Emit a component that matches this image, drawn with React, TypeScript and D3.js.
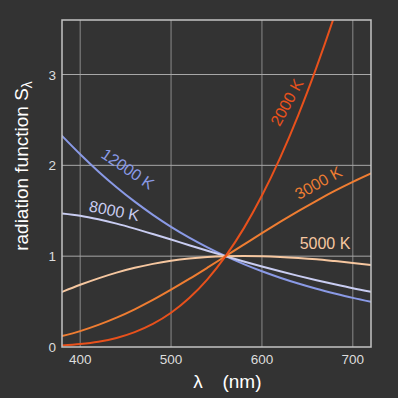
import React from 'react';
import * as d3 from 'd3';

// wavelength samples (nm)
const wavelengths = [380, 400, 420, 440, 460, 480, 500, 520, 540, 560, 580, 600, 620, 640, 660, 680, 700, 720];

// radiation function, normalised at 560 nm
const s2000 = [0.016, 0.032, 0.058, 0.100, 0.164, 0.254, 0.377, 0.539, 0.745, 1, 1.306, 1.667, 2.083, 2.554, 3.079, 3.654, 4.277, 4.942];
const s3000 = [0.120, 0.175, 0.243, 0.323, 0.415, 0.518, 0.631, 0.749, 0.873, 1, 1.127, 1.254, 1.377, 1.496, 1.610, 1.718, 1.818, 1.911];
const s5000 = [0.606, 0.685, 0.756, 0.819, 0.872, 0.915, 0.949, 0.974, 0.991, 1, 1.003, 1.000, 0.992, 0.980, 0.965, 0.946, 0.926, 0.903];
const s8000 = [1.470, 1.445, 1.406, 1.358, 1.303, 1.244, 1.183, 1.121, 1.060, 1, 0.942, 0.886, 0.833, 0.783, 0.735, 0.690, 0.647, 0.608];
const s12000 = [2.324, 2.122, 1.933, 1.759, 1.600, 1.455, 1.323, 1.204, 1.097, 1, 0.913, 0.834, 0.763, 0.699, 0.641, 0.589, 0.541, 0.499];

const xTicks = [400, 500, 600, 700];
const yTicks = [0, 1, 2, 3];

interface Series {
    name: string;
    values: number[];
    color: string;
    label: { x: number; y: number; angle: number };
}

const series: Series[] = [
    { name: '12000 K', values: s12000, color: '#8a9ae6', label: { x: 127, y: 170, angle: 34 } },
    { name: '8000 K', values: s8000, color: '#c9cdf2', label: { x: 114, y: 212, angle: 11 } },
    { name: '5000 K', values: s5000, color: '#f6c7a0', label: { x: 325, y: 245, angle: 0 } },
    { name: '3000 K', values: s3000, color: '#ef7d32', label: { x: 319, y: 184, angle: -29 } },
    { name: '2000 K', values: s2000, color: '#e8511c', label: { x: 288, y: 103, angle: -61 } },
];

const width = 398;
const height = 398;
const margin = { top: 20, right: 27, bottom: 51, left: 62 };

const App: React.FC = () => {
    const innerW = width - margin.left - margin.right;
    const innerH = height - margin.top - margin.bottom;

    const xScale = d3.scaleLinear().domain([380, 720]).range([margin.left, margin.left + innerW]);
    const yScale = d3.scaleLinear().domain([0, 3.6]).range([margin.top + innerH, margin.top]);

    const line = d3.line<number>()
        .x((_, i) => xScale(wavelengths[i]))
        .y(d => yScale(d))
        .curve(d3.curveMonotoneX);

    const font = '"Liberation Sans", Arial, Helvetica, sans-serif';

    return (
        <svg
            width={width}
            height={height}
            style={{ position: 'absolute', left: 0, top: 0, background: '#333333' }}
            fontFamily={font}
        >
            <defs>
                <clipPath id="plot-clip">
                    <rect x={margin.left} y={margin.top} width={innerW} height={innerH} />
                </clipPath>
            </defs>
            <rect x={0} y={0} width={width} height={height} fill="#333333" />

            {/* grid */}
            <g className="grid">
                {xTicks.map(t => (
                    <line key={'gx' + t} x1={xScale(t)} x2={xScale(t)} y1={margin.top} y2={margin.top + innerH}
                        stroke="#8a8a8a" strokeWidth={1} />
                ))}
                {yTicks.filter(t => t > 0).map(t => (
                    <line key={'gy' + t} x1={margin.left} x2={margin.left + innerW} y1={yScale(t)} y2={yScale(t)}
                        stroke="#a8a8a8" strokeWidth={1} />
                ))}
            </g>

            {/* curves */}
            <g className="curves" clipPath="url(#plot-clip)">
                {series.map(s => (
                    <path key={s.name} d={line(s.values) ?? ''} fill="none" stroke={s.color}
                        strokeWidth={2} strokeLinejoin="round" strokeLinecap="round" />
                ))}
            </g>

            {/* frame */}
            <rect x={margin.left} y={margin.top} width={innerW} height={innerH}
                fill="none" stroke="#c4c4c4" strokeWidth={1.5} />

            {/* curve labels */}
            {series.map(s => (
                <text key={'l' + s.name} x={s.label.x} y={s.label.y}
                    transform={`rotate(${s.label.angle},${s.label.x},${s.label.y})`}
                    fill={s.color} fontSize={16} textAnchor="middle" dominantBaseline="middle">
                    {s.name}
                </text>
            ))}

            {/* tick labels */}
            {xTicks.map(t => (
                <text key={'tx' + t} x={xScale(t)} y={364} fill="#dddddd" fontSize={13.5} textAnchor="middle">
                    {t}
                </text>
            ))}
            {yTicks.map(t => (
                <text key={'ty' + t} x={56} y={yScale(t) + 5} fill="#dddddd" fontSize={13.5} textAnchor="end">
                    {t}
                </text>
            ))}

            {/* axis titles */}
            <text x={198} y={388} fill="#ffffff" fontSize={19} textAnchor="middle">λ</text>
            <text x={242} y={388} fill="#ffffff" fontSize={19} textAnchor="middle">(nm)</text>
            <text transform={`translate(28,166) rotate(-90)`} fill="#ffffff" fontSize={19} textAnchor="middle">
                radiation function S<tspan fontSize={14} dy={4}>λ</tspan>
            </text>
        </svg>
    );
};

export default App;
